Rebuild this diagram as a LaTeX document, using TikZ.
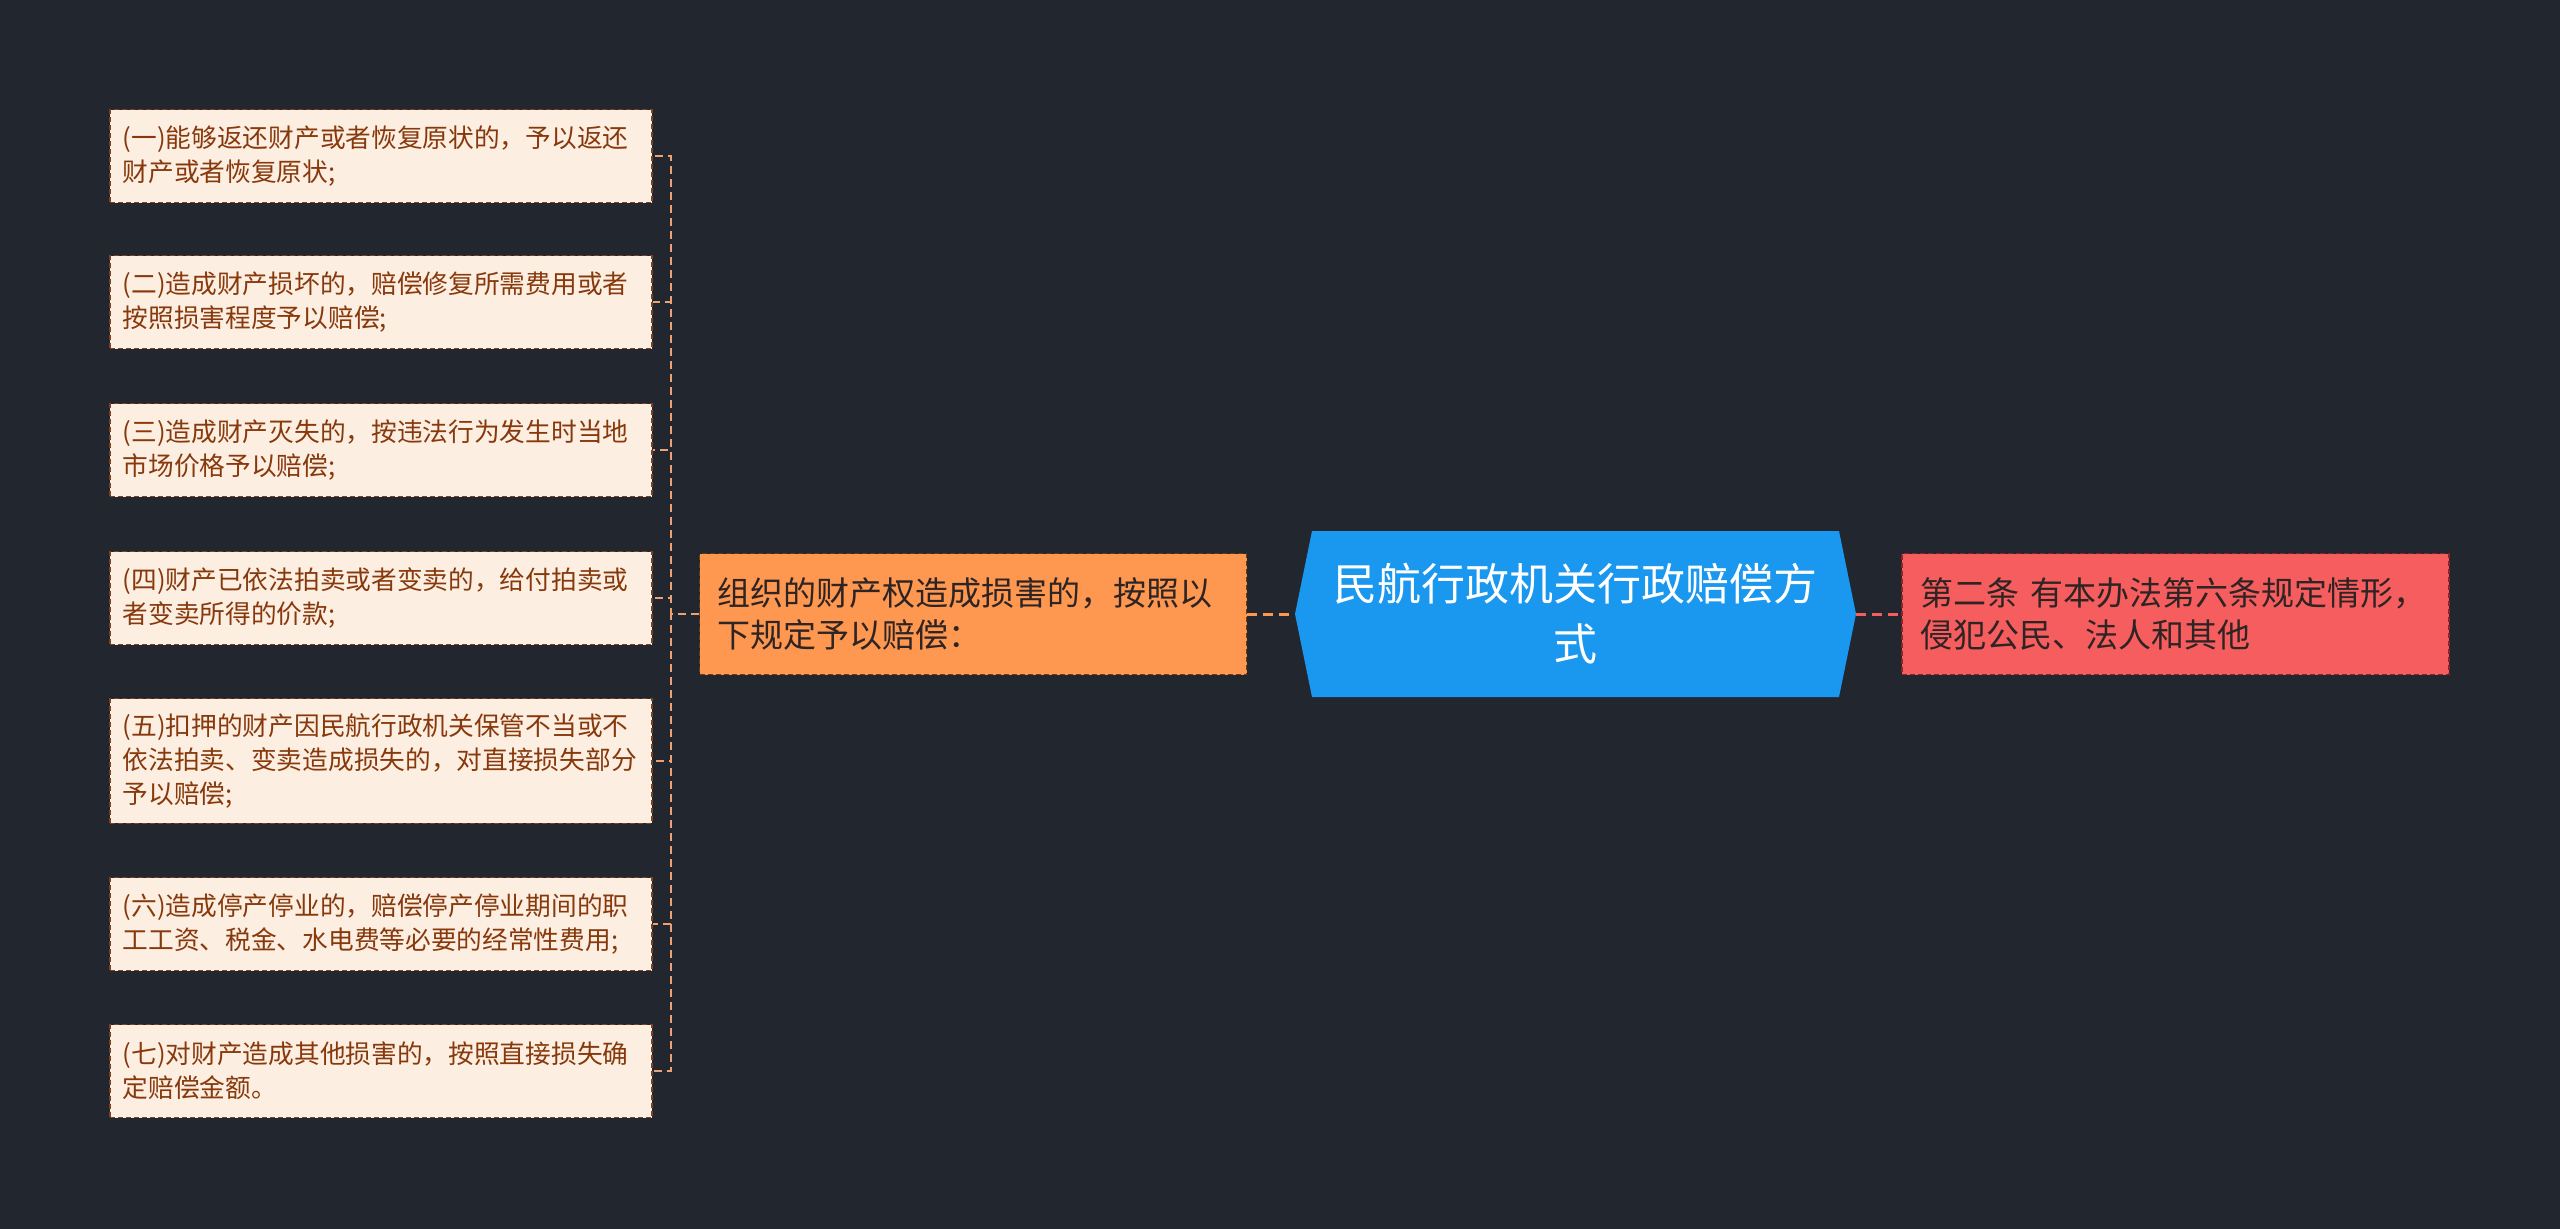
\documentclass[tikz,border=0pt]{standalone}
\usepackage{fontspec}
\setmainfont{Noto Sans CJK SC}
\definecolor{bgdark}{HTML}{22262F}
\definecolor{leaffill}{HTML}{FDEEE2}
\definecolor{leafline}{HTML}{7E4220}
\definecolor{leaftext}{HTML}{87390C}
\definecolor{orgfill}{HTML}{FE9850}
\definecolor{orgline}{HTML}{6E3A12}
\definecolor{hubblue}{HTML}{1A97EE}
\definecolor{redfill}{HTML}{F65D5E}
\definecolor{redline}{HTML}{8E2326}
\definecolor{darktext}{HTML}{2E2424}
\definecolor{brackline}{HTML}{EDA275}
\begin{document}
\begin{tikzpicture}[x=1pt,y=-1pt,
    leaf/.style={draw=leafline,fill=leaffill,text=leaftext,line width=1.5pt,
      dash pattern=on 5pt off 3pt,anchor=west,align=left,text width=516pt,
      inner xsep=13pt,inner ysep=15pt,minimum height=93pt,
      font=\fontsize{25.7}{34}\selectfont},
    mid/.style={line width=1.5pt,dash pattern=on 5pt off 3pt,align=left,
      text=darktext,text width=511pt,inner xsep=18pt,minimum height=121pt,
      font=\fontsize{33}{42}\selectfont},
    hub/.style={minimum width=561pt,minimum height=166pt,inner sep=0pt,
      align=center,text=white,font=\fontsize{44}{60}\selectfont,
      path picture={\fill[hubblue]
        ([xshift=17pt]path picture bounding box.north west) --
        ([xshift=-17pt]path picture bounding box.north east) --
        (path picture bounding box.east) --
        ([xshift=-17pt]path picture bounding box.south east) --
        ([xshift=17pt]path picture bounding box.south west) --
        (path picture bounding box.west) -- cycle;}},
    brack/.style={draw=brackline,line width=2pt,dash pattern=on 8pt off 5pt}]
  \fill[bgdark] (0,0) rectangle (2560,1229);
  \useasboundingbox (0,0) rectangle (2560,1229);
  \node[hub] (hub) at (1575.5,614) {民航行政机关行政赔偿方\\式};
  \node[mid,draw=orgline,fill=orgfill] (org) at (973,614)
    {组织的财产权造成损害的，按照以\\下规定予以赔偿：};
  \node[mid,draw=redline,fill=redfill] (art) at (2175.5,614)
    {第二条 有本办法第六条规定情形，\\侵犯公民、法人和其他};
  \foreach \i/\y/\t in {%
      1/156/{(一)能够返还财产或者恢复原状的，予以返还\\财产或者恢复原状;},
      2/302/{(二)造成财产损坏的，赔偿修复所需费用或者\\按照损害程度予以赔偿;},
      3/450/{(三)造成财产灭失的，按违法行为发生时当地\\市场价格予以赔偿;},
      4/598/{(四)财产已依法拍卖或者变卖的，给付拍卖或\\者变卖所得的价款;},
      5/761/{(五)扣押的财产因民航行政机关保管不当或不\\依法拍卖、变卖造成损失的，对直接损失部分\\予以赔偿;},
      6/924/{(六)造成停产停业的，赔偿停产停业期间的职\\工工资、税金、水电费等必要的经常性费用;},
      7/1071/{(七)对财产造成其他损害的，按照直接损失确\\定赔偿金额。}} {%
    \node[leaf] (l\i) at (109,\y) {\t};
    \draw[brack] (org.west) -- ++(-28,0) |- (l\i.east);
  }
  \draw[draw=orgfill,line width=3pt,dash pattern=on 10pt off 6pt] (org.east) -- (hub.west);
  \draw[draw=redfill,line width=3pt,dash pattern=on 10pt off 6pt] (hub.east) -- (art.west);
\end{tikzpicture}
\end{document}
